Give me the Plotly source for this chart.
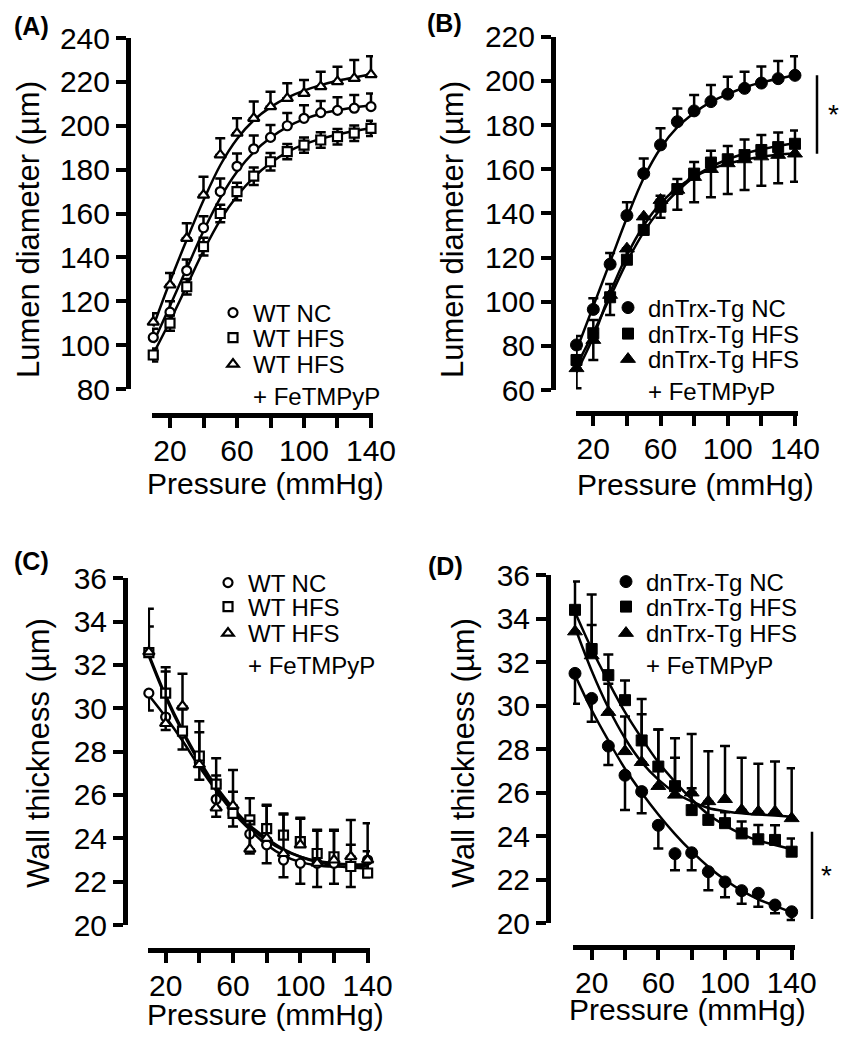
import plotly.graph_objects as go

# The page adds an 8 px body margin around the figure; the figure is sized so that
# it fits the 849x1050 window exactly and all positions below are window pixels.
WIN_W, WIN_H, OFF = 849, 1050, 8
W, H = WIN_W - 2 * OFF, WIN_H - 2 * OFF
FONT = "Arial, Liberation Sans, sans-serif"

# ---------------- data ----------------
pressure = [10, 20, 30, 40, 50, 60, 70, 80, 90, 100, 110, 120, 130, 140]
x_tickvals = [20, 40, 60, 80, 100, 120, 140]
x_ticktext = ["20", "", "60", "", "100", "", "140"]

# Panel A - lumen diameter, WT
a_nc = [103.5, 115, 134, 153.5, 170, 181.5, 189.5, 194.7, 200, 203.4, 206, 207, 208, 208.7]
a_nc_err = [4, 5, 5, 5.3, 6, 5.8, 6, 5.6, 5.8, 6, 5.3, 6, 6, 6]
a_hfs = [95.5, 110, 126.6, 144.9, 160, 170, 177, 183.6, 188.2, 191.2, 193.5, 195, 196.6, 198.8]
a_hfs_err = [3, 3.5, 3.5, 4, 4, 4, 4, 4, 3.5, 3.5, 3.5, 3.5, 3.5, 3.5]
a_fe = [110.5, 127.4, 148.7, 168.4, 186.7, 196.6, 203.4, 208.7, 212.5, 214.8, 217.8, 220.1, 221.6, 223.3]
a_fe_err = [4, 5.5, 6.8, 8.4, 7.6, 6.8, 7.6, 6.8, 6.9, 6.1, 6.8, 6.8, 8.4, 8.4]
a_fit_nc = [101, 118, 135, 152, 167, 179, 188, 194.5, 199.5, 203, 205.5, 207, 208.3, 209.2]
a_fit_hfs = [96, 111, 127, 143, 157, 168, 176.5, 183, 188, 191.5, 194, 196, 197.6, 199]
a_fit_fe = [108.5, 129, 148, 166, 182, 194, 202.5, 208.5, 212.8, 216, 218.5, 220.5, 222, 223.5]

# Panel B - lumen diameter, dnTrx-Tg
b_nc = [80.4, 96.5, 117, 139, 158, 171, 181.5, 186.4, 190.6, 194, 196.6, 199, 201, 202.5]
b_nc_err = [4, 5, 5, 6, 6.8, 7.5, 6, 7.2, 7.5, 7.9, 7.5, 7.5, 8, 8.6]
b_hfs = [73.6, 85.7, 102, 119, 132.5, 143, 151, 158, 163, 164.5, 166.4, 168.7, 170, 171.5]
b_hfs_err = [5, 6, 6, 5, 5, 5, 4.6, 5.3, 5.3, 6, 7, 6.8, 6.6, 6]
b_fe = [69.8, 82.6, 103, 124, 138.5, 146, 150.6, 156.4, 160, 162.6, 164.4, 165.7, 166.4, 167]
b_fe_err = [9, 9, 9, 6, 8, 8, 9, 11.4, 12.7, 13.8, 13.8, 13.2, 12.8, 12.7]
b_fit_nc = [78, 98, 118, 138, 156, 169.5, 179, 185.5, 190.5, 194, 197, 199.3, 201, 202.5]
b_fit_hfs = [71, 86, 102, 118, 131.5, 142, 150, 156.5, 161, 164.5, 167, 169, 170.5, 171.7]
b_fit_fe = [68, 84, 104, 121, 134.5, 144.5, 151.5, 156.5, 160, 162.5, 164.3, 165.6, 166.5, 167.2]
b_sig = [167, 202.5]

# Panel C - wall thickness, WT
c_nc = [30.7, 29.6, 28.85, 27.5, 25.8, 25.15, 24.2, 23.7, 23.0, 22.85, 22.85, 22.85, 22.7, 23.0]
c_nc_err = [0.8, 0.6, 0.75, 0.8, 0.8, 0.6, 0.9, 0.85, 0.8, 0.95, 1.1, 0.95, 0.95, 0.8]
c_hfs = [32.57, 30.7, 28.95, 27.8, 26.5, 25.15, 24.85, 24.45, 24.15, 23.85, 23.3, 23.15, 22.7, 22.4]
c_hfs_err = [1.2, 1.2, 1.0, 1.1, 1.2, 1.0, 1.0, 1.1, 1.0, 1.1, 1.1, 1.2, 1.0, 1.0]
c_fe = [32.6, 29.3, 30.1, 27.4, 25.4, 25.5, 23.5, 24.0, 23.3, 23.7, 22.85, 23.0, 23.15, 23.0]
c_fe_err = [2.0, 2.4, 1.5, 2.0, 1.5, 1.65, 1.3, 1.5, 1.8, 1.2, 1.5, 1.4, 1.7, 1.7]
c_fit_nc = [30.6, 29.6, 28.5, 27.3, 26.2, 25.2, 24.4, 23.7, 23.2, 22.9, 22.75, 22.7, 22.7, 22.75]
c_fit_hfs = [32.5, 30.6, 29.0, 27.6, 26.4, 25.4, 24.6, 24.0, 23.5, 23.15, 22.9, 22.75, 22.65, 22.6]
c_fit_fe = [32.4, 30.5, 28.9, 27.5, 26.3, 25.3, 24.5, 23.9, 23.45, 23.15, 22.95, 22.85, 22.8, 22.8]

# Panel D - wall thickness, dnTrx-Tg
d_nc = [31.48, 30.33, 28.14, 26.8, 26.05, 24.5, 23.2, 23.24, 22.37, 21.9, 21.5, 21.38, 20.84, 20.53]
d_nc_err = [1.4, 1.07, 0.87, 1.6, 1.0, 1.06, 0.76, 0.8, 0.85, 0.7, 0.6, 0.62, 0.38, 0.38]
d_hfs = [34.4, 32.6, 31.4, 30.25, 28.4, 27.2, 26.3, 25.2, 24.75, 24.6, 24.13, 23.86, 23.83, 23.29]
d_hfs_err = [1.3, 2.5, 0.95, 0.9, 1.9, 1.7, 1.3, 1.0, 0.8, 0.5, 0.55, 0.65, 0.67, 0.6]
d_fe = [33.4, 32.3, 29.7, 27.9, 27.4, 26.3, 25.9, 26.0, 25.6, 25.7, 25.2, 25.13, 25.13, 24.82]
d_fe_err = [1.0, 1.4, 1.3, 1.6, 2.2, 2.6, 2.6, 2.7, 2.3, 2.45, 2.4, 2.2, 2.3, 2.3]
d_fit_nc = [31.4, 29.8, 28.4, 27.1, 26.0, 25.0, 24.1, 23.3, 22.6, 22.0, 21.5, 21.1, 20.8, 20.5]
d_fit_hfs = [34.3, 32.6, 31.1, 29.7, 28.5, 27.4, 26.5, 25.7, 25.0, 24.5, 24.1, 23.8, 23.6, 23.4]
d_fit_fe = [33.6, 31.6, 29.9, 28.5, 27.4, 26.6, 26.0, 25.6, 25.3, 25.15, 25.05, 25.0, 24.95, 24.9]
d_sig = [20.2, 24.2]

names_wt = ["WT NC", "WT HFS", "WT HFS<br>+ FeTMPyP"]
names_dn = ["dnTrx-Tg NC", "dnTrx-Tg HFS", "dnTrx-Tg HFS<br>+ FeTMPyP"]

# ---------------- layout helpers (window pixel -> paper) ----------------
def fx(p):
    return (p - OFF) / W


def fy(p):
    return 1 - (p - OFF) / H


panels = [
    dict(ax="", label="(A)", lab_xy=(31, 26), ytitle="Lumen diameter (µm)", yt_xy=(28, 230),
         xt_xy=(265, 483), yaxis_px=128, ydom=(389, 38), yrange=[80, 240], ydtick=20,
         xdom=(152, 373), xrange=[9.25, 141.2], xaxis_py=415,
         series=[(a_nc, a_nc_err, a_fit_nc, "up"), (a_hfs, a_hfs_err, a_fit_hfs, "both"),
                 (a_fe, a_fe_err, a_fit_fe, "up")],
         filled=False, names=names_wt, leg_x=233, leg_y=[313, 338, 360]),
    dict(ax="2", label="(B)", lab_xy=(444, 23), ytitle="Lumen diameter (µm)", yt_xy=(452, 230),
         xt_xy=(695, 484), yaxis_px=553, ydom=(390, 36.7), yrange=[60, 220], ydtick=20,
         xdom=(576, 798), xrange=[9.7, 141.8], xaxis_py=413,
         series=[(b_nc, b_nc_err, b_fit_nc, "up"), (b_hfs, b_hfs_err, b_fit_hfs, "up"),
                 (b_fe, b_fe_err, b_fit_fe, "down")],
         filled=True, names=names_dn, leg_x=628, leg_y=[308, 334, 355]),
    dict(ax="3", label="(C)", lab_xy=(31, 561), ytitle="Wall thickness (µm)", yt_xy=(38, 753),
         xt_xy=(265, 1014), yaxis_px=125, ydom=(925, 578.3), yrange=[20, 36], ydtick=2,
         xdom=(148, 370), xrange=[9.5, 141.4], xaxis_py=950,
         series=[(c_nc, c_nc_err, c_fit_nc, "down"), (c_hfs, c_hfs_err, c_fit_hfs, "up"),
                 (c_fe, c_fe_err, c_fit_fe, "up")],
         filled=False, names=names_wt, leg_x=228, leg_y=[583, 607, 629]),
    dict(ax="4", label="(D)", lab_xy=(445, 566), ytitle="Wall thickness (µm)", yt_xy=(463, 753),
         xt_xy=(687, 1009), yaxis_px=548, ydom=(923.3, 575), yrange=[20, 36], ydtick=2,
         xdom=(573, 795), xrange=[8.8, 142], xaxis_py=947,
         series=[(d_nc, d_nc_err, d_fit_nc, "down"), (d_hfs, d_hfs_err, d_fit_hfs, "up"),
                 (d_fe, d_fe_err, d_fit_fe, "up")],
         filled=True, names=names_dn, leg_x=626, leg_y=[582, 607, 629]),
]

symbols = ["circle", "square", "triangle-up"]

fig = go.Figure()
annotations = []
shapes = []
layout_axes = {}
leg_count = 0

for p in panels:
    xa = "x" + p["ax"]
    ya = "y" + p["ax"]
    # fitted curves
    for vals, err, fit, direction in p["series"]:
        fig.add_trace(go.Scatter(
            x=pressure, y=fit, mode="lines", xaxis=xa, yaxis=ya,
            line=dict(color="black", width=2.5, shape="spline", smoothing=1.0),
            showlegend=False, hoverinfo="skip"))
    # points with error bars
    for i, (vals, err, fit, direction) in enumerate(p["series"]):
        leg_count += 1
        leg_id = "legend" if leg_count == 1 else "legend%d" % leg_count
        zeros = [0] * len(err)
        if direction == "up":
            ey = dict(type="data", symmetric=False, array=err, arrayminus=zeros)
        elif direction == "down":
            ey = dict(type="data", symmetric=False, array=zeros, arrayminus=err)
        else:
            ey = dict(type="data", symmetric=True, array=err)
        ey.update(color="black", thickness=2.5, width=5)
        if p["filled"]:
            size = [12, 11, 13][i]
            marker = dict(symbol=symbols[i], size=size, color="black",
                          line=dict(color="black", width=1))
        else:
            size = [9, 9, 10][i]
            marker = dict(symbol=symbols[i], size=size, color="white",
                          line=dict(color="black", width=2.2))
        fig.add_trace(go.Scatter(
            x=pressure, y=vals, mode="markers", xaxis=xa, yaxis=ya,
            marker=marker, error_y=ey, cliponaxis=False,
            name=p["names"][i], legend=leg_id, showlegend=True))
        layout_axes[leg_id] = dict(
            x=fx(p["leg_x"] - 20), y=fy(p["leg_y"][i]), xanchor="left",
            yanchor="middle" if i < 2 else "top", valign="top",
            bgcolor="rgba(0,0,0,0)", borderwidth=0,
            font=dict(family=FONT, size=24, color="black"), itemwidth=30)
        if i == 2:
            layout_axes[leg_id]["y"] = fy(p["leg_y"][i] - 18)

    axis_common = dict(showline=True, linewidth=5, linecolor="black", ticks="outside",
                       ticklen=10, tickwidth=4, tickcolor="black", showgrid=False,
                       zeroline=False, tickfont=dict(family=FONT, size=30, color="black"))
    xkey = "xaxis" + p["ax"]
    ykey = "yaxis" + p["ax"]
    layout_axes[xkey] = dict(axis_common, domain=[fx(p["xdom"][0]), fx(p["xdom"][1])],
                             range=p["xrange"], tickmode="array", tickvals=x_tickvals,
                             ticktext=x_ticktext, anchor="free", position=fy(p["xaxis_py"]),
                             ticklabelstandoff=-3)
    layout_axes[ykey] = dict(axis_common, domain=[fy(p["ydom"][0]), fy(p["ydom"][1])],
                             range=p["yrange"], tickmode="linear", tick0=p["yrange"][0],
                             dtick=p["ydtick"], anchor="free", position=fx(p["yaxis_px"]))

    annotations.append(dict(text="<b>%s</b>" % p["label"], x=fx(p["lab_xy"][0]), y=fy(p["lab_xy"][1]),
                            xref="paper", yref="paper", showarrow=False, xanchor="center",
                            yanchor="middle", font=dict(family=FONT, size=25, color="black")))
    annotations.append(dict(text=p["ytitle"], x=fx(p["yt_xy"][0]), y=fy(p["yt_xy"][1]),
                            xref="paper", yref="paper", showarrow=False, textangle=-90,
                            xanchor="center", yanchor="middle",
                            font=dict(family=FONT, size=31, color="black")))
    annotations.append(dict(text="Pressure (mmHg)", x=fx(p["xt_xy"][0]), y=fy(p["xt_xy"][1]),
                            xref="paper", yref="paper", showarrow=False,
                            xanchor="center", yanchor="middle",
                            font=dict(family=FONT, size=30, color="black")))

# significance brackets
for ax_id, sig, lx, sx in [("y2", b_sig, 817, 833), ("y4", d_sig, 812, 826)]:
    shapes.append(dict(type="line", xref="paper", yref=ax_id, x0=fx(lx), x1=fx(lx),
                       y0=sig[0], y1=sig[1], line=dict(color="black", width=2.5)))
    annotations.append(dict(text="*", x=fx(sx), y=(sig[0] + sig[1]) / 2, xref="paper", yref=ax_id,
                            showarrow=False, xanchor="center", yanchor="middle",
                            font=dict(family=FONT, size=28, color="black")))

fig.update_layout(
    width=W, height=H, margin=dict(l=0, r=0, t=0, b=0),
    paper_bgcolor="white", plot_bgcolor="white", template="none",
    font=dict(family=FONT, color="black"),
    annotations=annotations, shapes=shapes, **layout_axes)

fig.write_html("out.html")
